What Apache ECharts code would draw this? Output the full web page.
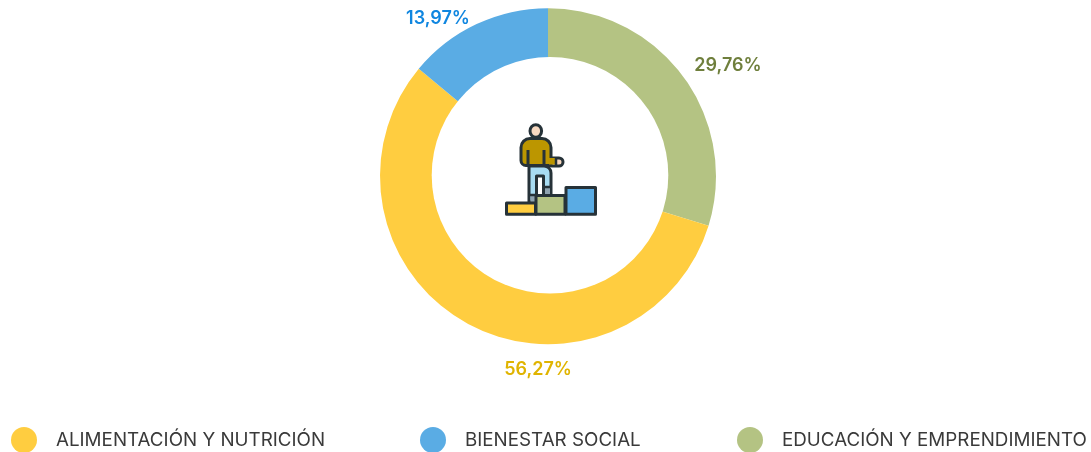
<!DOCTYPE html>
<html><head><meta charset="utf-8">
<style>html,body{margin:0;padding:0;background:#fff}#c{width:1091px;height:452px}</style>
<script src="https://cdn.jsdelivr.net/npm/echarts@6/dist/echarts.min.js"></script>
</head><body><div id="c"></div>
<script>
const categories = ['EDUCACIÓN Y EMPRENDIMIENTO', 'ALIMENTACIÓN Y NUTRICIÓN', 'BIENESTAR SOCIAL'];
const values = [29.76, 56.27, 13.97];
const labelTexts = ['29,76%', '56,27%', '13,97%'];
const sliceColors = ['#B4C383', '#FFCD40', '#5AACE4'];
const labelColors = ['#6F7F3C', '#E0B400', '#0F86E0'];
const labelSpots = [[728, 66], [538, 370], [438, 19]];
const legendLefts = {'ALIMENTACIÓN Y NUTRICIÓN': 11, 'BIENESTAR SOCIAL': 420, 'EDUCACIÓN Y EMPRENDIMIENTO': 737};
const FONT = 'Inter';
const ink = '#263238';
const st = (fill) => ({fill: fill, stroke: ink, lineWidth: 3, lineJoin: 'round'});
const iconParts = [
  {type: 'circle', shape: {cx: 550, cy: 175.3, r: 118.3}, style: {fill: '#fff'}},
  {type: 'rect', shape: {x: 529, y: 166, width: 22, height: 36, r: [0, 7, 0, 0]}, style: st('#A8DCF2')},
  {type: 'rect', shape: {x: 536.5, y: 176, width: 7, height: 28}, style: st('#fff')},
  {type: 'rect', shape: {x: 545, y: 188, width: 5, height: 6}, style: {fill: '#8FA3B0'}},
  {type: 'rect', shape: {x: 530.5, y: 196, width: 5, height: 6}, style: {fill: '#8FA3B0'}},
  {type: 'line', shape: {x1: 543, y1: 187, x2: 551, y2: 187}, style: {stroke: ink, lineWidth: 2.5}},
  {type: 'line', shape: {x1: 529, y1: 195, x2: 536, y2: 195}, style: {stroke: ink, lineWidth: 2.5}},
  {type: 'rect', shape: {x: 548, y: 158, width: 15, height: 8, r: 4}, style: st('#F8D9C0')},
  {type: 'rect', shape: {x: 521, y: 138.5, width: 30, height: 27, r: [9, 9, 0, 5]}, style: st('#BC9600')},
  {type: 'rect', shape: {x: 549, y: 158, width: 7, height: 6.5}, style: {fill: '#BC9600'}},
  {type: 'line', shape: {x1: 556, y1: 158, x2: 556, y2: 165}, style: {stroke: ink, lineWidth: 2.5}},
  {type: 'line', shape: {x1: 528, y1: 150, x2: 528, y2: 165}, style: {stroke: ink, lineWidth: 3}},
  {type: 'line', shape: {x1: 544, y1: 150, x2: 544, y2: 165}, style: {stroke: ink, lineWidth: 3}},
  {type: 'ellipse', shape: {cx: 535.8, cy: 131, rx: 5.8, ry: 6.3}, style: st('#F8D9C0')},
  {type: 'rect', shape: {x: 506.5, y: 203, width: 29, height: 11.3}, style: st('#FFCD40')},
  {type: 'rect', shape: {x: 536, y: 195.5, width: 29, height: 18.8}, style: st('#B4C383')},
  {type: 'rect', shape: {x: 566, y: 187.5, width: 29.5, height: 26.8}, style: st('#5AACE4')}
];
const chart = echarts.init(document.getElementById('c'), null, {renderer: 'canvas'});
chart.setOption({
  animation: false,
  color: sliceColors,
  legend: Object.keys(legendLefts).map(name => ({
    data: [{name: name, icon: 'circle'}],
    left: legendLefts[name], top: 427, padding: 0,
    itemWidth: 26, itemHeight: 26, selectedMode: false,
    textStyle: {fontFamily: FONT, fontSize: 18.8, color: '#3a3a3a', padding: [0, 0, 0, 14]}
  })),
  series: [{
    type: 'pie', center: [548, 176.2], radius: [100, 168], startAngle: 90, clockwise: true,
    silent: true, itemStyle: {borderWidth: 0},
    data: categories.map((n, i) => ({
      name: n, value: values[i],
      label: {color: labelColors[i], formatter: labelTexts[i]}
    })),
    label: {show: true, position: 'outside', fontFamily: FONT, fontSize: 18, fontWeight: 600},
    labelLine: {show: false},
    labelLayout: p => ({x: labelSpots[p.dataIndex][0], y: labelSpots[p.dataIndex][1], align: 'center', verticalAlign: 'middle'})
  }],
  graphic: {elements: iconParts.map((e, i) => ({...e, z: 100, zlevel: 1}))}
});
</script></body></html>
